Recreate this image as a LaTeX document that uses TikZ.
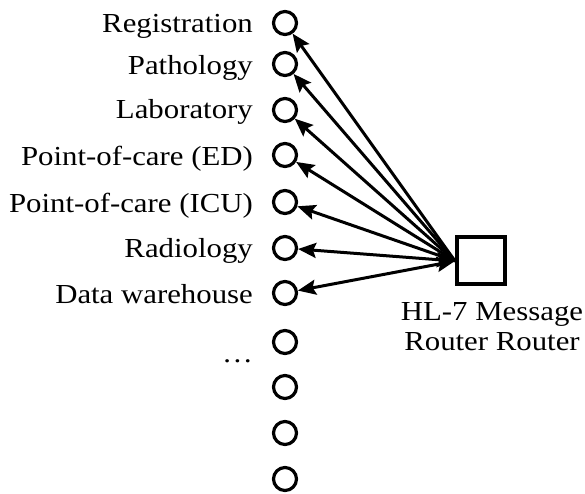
\documentclass[tikz,border=0pt]{standalone}
\usepackage{fontspec}
\setmainfont{Liberation Serif}[FakeStretch=1.12]
\usetikzlibrary{arrows.meta}
\begin{document}
\begin{tikzpicture}[x=1pt,y=-1pt,
  port/.style={circle,draw,line width=3.2pt,minimum size=23pt,inner sep=0pt},
  lbl/.style={anchor=base east,inner sep=0pt,font=\fontsize{27.5}{30}\selectfont},
  conn/.style={line width=3pt,-{Stealth[length=18pt,width=15pt,inset=3pt]}},
  dconn/.style={line width=3pt,{Stealth[length=18pt,width=15pt,inset=3pt]}-{Stealth[length=18pt,width=15pt,inset=3pt]}}]
\useasboundingbox (0,0) rectangle (585,493);
\foreach \i/\y in {1/23,2/64,3/110,4/155,5/202,6/248,7/293,8/342,9/387,10/433,11/479}
  \node[port] (c\i) at (285,\y) {};
\node[lbl] (l1) at (253,32) {Registration};
\node[lbl] (l2) at (253,74) {Pathology};
\node[lbl] (l3) at (253,118) {Laboratory};
\node[lbl] (l4) at (253,165) {Point-of-care (ED)};
\node[lbl] (l5) at (253,212) {Point-of-care (ICU)};
\node[lbl] (l6) at (253,257) {Radiology};
\node[lbl] (l7) at (253,303) {Data warehouse};
\node[lbl] (l8) at (253,362) {\ldots};
\node[draw,line width=3.2pt,minimum width=48pt,minimum height=47pt,inner sep=0pt] (box) at (481,260.5) {};
\node[align=center,inner sep=0pt,font=\fontsize{27.5}{30}\selectfont,anchor=base] (txt) at (492,350) {HL-7 Message\\Router Router};
\coordinate (hub) at (455,261);
\foreach \i in {1,...,5}
  \draw[conn] (hub) -- (c\i);
\draw[dconn] (hub) -- (c6);
\draw[dconn] (hub) -- (c7);
\end{tikzpicture}
\end{document}
